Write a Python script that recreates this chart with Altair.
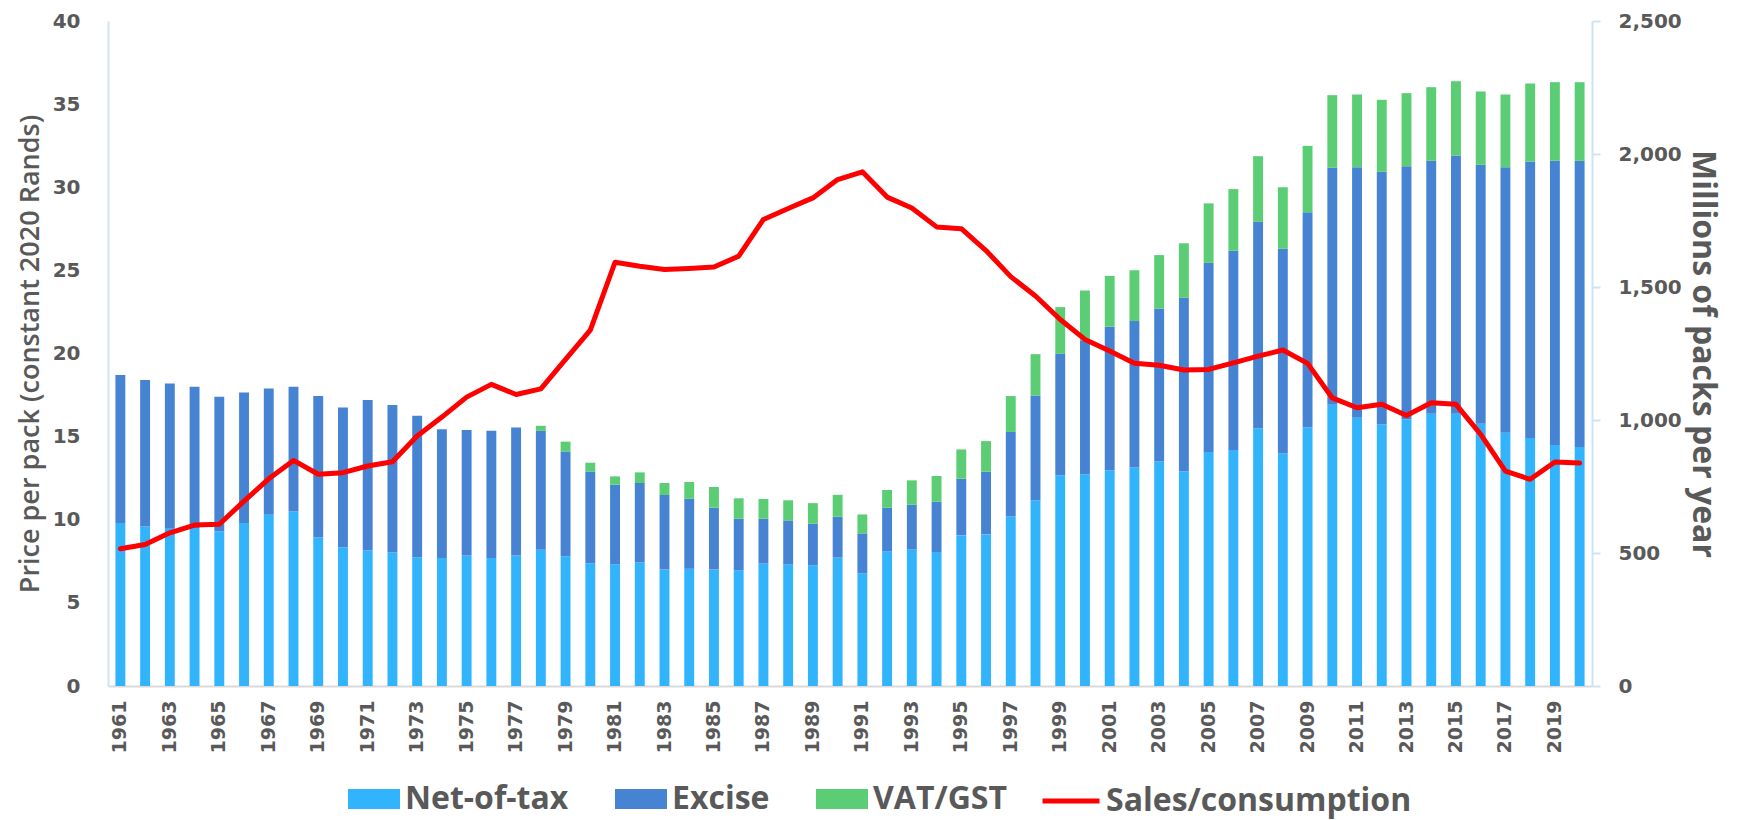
import altair as alt
import pandas as pd

years = list(range(1961, 2021))

net_of_tax = [9.8, 9.6, 9.5, 9.5, 9.3, 9.8, 10.3, 10.5, 8.95, 8.35,
              8.15, 8.05, 7.75, 7.7, 7.85, 7.7, 7.85, 8.2, 7.8, 7.38,
              7.32, 7.42, 7.01, 7.05, 7.01, 6.96, 7.36, 7.32, 7.26, 7.72,
              6.78, 8.1, 8.22, 8.06, 9.06, 9.12, 10.2, 11.17, 12.67, 12.73,
              12.97, 13.15, 13.51, 12.91, 14.07, 14.19, 15.51, 13.99, 15.56, 16.92,
              16.13, 15.73, 16.04, 16.38, 16.38, 15.77, 15.23, 14.91, 14.49, 14.37]

excise = [8.9, 8.8, 8.7, 8.5, 8.1, 7.85, 7.6, 7.5, 8.5, 8.4,
          9.05, 8.85, 8.5, 7.75, 7.55, 7.65, 7.7, 7.15, 6.3, 5.52,
          4.79, 4.79, 4.48, 4.21, 3.71, 3.1, 2.7, 2.64, 2.5, 2.46,
          2.4, 2.62, 2.68, 3.02, 3.41, 3.77, 5.08, 6.31, 7.31, 8.06,
          8.64, 8.8, 9.2, 10.44, 11.38, 11.99, 12.41, 12.31, 12.93, 14.25,
          15.08, 15.2, 15.23, 15.21, 15.53, 15.58, 15.98, 16.64, 17.1, 17.22]

vat_gst = [0, 0, 0, 0, 0, 0, 0, 0, 0, 0,
           0, 0, 0, 0, 0, 0, 0, 0.3, 0.6, 0.53,
           0.5, 0.64, 0.72, 1.01, 1.25, 1.23, 1.19, 1.21, 1.24, 1.32,
           1.14, 1.07, 1.47, 1.55, 1.76, 1.84, 2.16, 2.48, 2.81, 3.0,
           3.06, 3.06, 3.21, 3.28, 3.58, 3.71, 3.95, 3.7, 4.0, 4.37,
           4.37, 4.33, 4.39, 4.43, 4.47, 4.41, 4.37, 4.69, 4.73, 4.73]

sales = [516, 532, 576, 605, 608, 695, 779, 848, 796, 802,
         827, 843, 940, 1011, 1086, 1134, 1096, 1117, 1228, 1338,
         1593, 1578, 1566, 1570, 1575, 1616, 1754, 1795, 1835, 1904,
         1933, 1838, 1797, 1726, 1719, 1637, 1539, 1466, 1378, 1303,
         1259, 1213, 1206, 1188, 1190, 1215, 1240, 1263, 1213, 1083,
         1046, 1059, 1017, 1065, 1059, 946, 808, 777, 842, 838]

series_names = ["Net-of-tax", "Excise", "VAT/GST"]
series_colors = ["#31b4fc", "#4783d3", "#5bce75"]
line_name = "Sales/consumption"
line_color = "#ff0000"
left_ticks = [0, 5, 10, 15, 20, 25, 30, 35, 40]
right_ticks = [0, 500, 1000, 1500, 2000, 2500]
label_years = [y for y in years if y % 2 == 1]

TXT = "#595959"
AXBLUE = "#cfe3f6"

rows = []
for i, yr in enumerate(years):
    for k, (name, vals) in enumerate(zip(series_names, [net_of_tax, excise, vat_gst])):
        rows.append({"year": yr, "series": name, "value": vals[i], "order": k})
bars_df = pd.DataFrame(rows)
line_df = pd.DataFrame({"year": years, "sales": sales, "name": [line_name] * len(years)})

x_enc = alt.X(
    "year:O",
    scale=alt.Scale(paddingInner=0.6, paddingOuter=0.3),
    axis=alt.Axis(
        title=None, values=label_years, labelAngle=270, ticks=False,
        domainColor="#d9d9d9", domainWidth=2, labelPadding=14,
        labelFont="DejaVu Sans", labelFontSize=19, labelFontWeight="bold",
        labelColor=TXT, grid=False,
    ),
)

bars = alt.Chart(bars_df).mark_bar(strokeWidth=0).encode(
    x=x_enc,
    y=alt.Y(
        "value:Q",
        stack="zero",
        scale=alt.Scale(domain=[0, 40], nice=False),
        axis=alt.Axis(
            title="Price per pack (constant 2020 Rands)", values=left_ticks,
            ticks=False, domainColor=AXBLUE, domainWidth=2, grid=False,
            labelPadding=28, labelFont="DejaVu Sans", labelFontSize=20,
            labelFontWeight="bold", labelColor=TXT,
            titleFont="Open Sans", titleFontSize=27, titleFontWeight=600,
            titleColor=TXT, titlePadding=8,
        ),
    ),
    color=alt.Color(
        "series:N",
        scale=alt.Scale(domain=series_names, range=series_colors),
        legend=alt.Legend(
            title=None, orient="none", legendX=240, legendY=752,
            direction="horizontal", columns=3, symbolSize=2704,
            symbolType="M-1,-0.385H1V0.385H-1Z",
            symbolStrokeWidth=0, symbolOpacity=1,
            labelFont="Open Sans", labelFontSize=32, labelFontWeight="bold",
            labelColor=TXT, labelOffset=5, columnPadding=46, labelLimit=0,
            padding=0,
        ),
    ),
    order=alt.Order("order:Q", sort="ascending"),
)

line = alt.Chart(line_df).mark_line(
    strokeWidth=5, strokeJoin="round", strokeCap="round"
).encode(
    x=alt.X("year:O"),
    y=alt.Y(
        "sales:Q",
        scale=alt.Scale(domain=[0, 2500], nice=False),
        axis=alt.Axis(
            orient="right", title="Millions of packs per year",
            values=right_ticks, format=",.0f", tickSize=8, tickWidth=2,
            tickColor=AXBLUE, domainColor=AXBLUE, domainWidth=2, grid=False,
            labelPadding=18, labelFont="DejaVu Sans", labelFontSize=20,
            labelFontWeight="bold", labelColor=TXT,
            titleFont="Open Sans", titleFontSize=32, titleFontWeight="bold",
            titleColor=TXT, titlePadding=4,
        ),
    ),
    stroke=alt.Stroke(
        "name:N",
        scale=alt.Scale(domain=[line_name], range=[line_color]),
        legend=alt.Legend(
            title=None, orient="none", legendX=932, legendY=749,
            symbolType="stroke", symbolSize=3249, symbolStrokeWidth=5,
            symbolStrokeColor=line_color,
            labelFont="Open Sans", labelFontSize=32, labelFontWeight="bold",
            labelColor=TXT, labelOffset=4, labelLimit=0, padding=0,
        ),
    ),
)

chart = alt.layer(bars, line).resolve_scale(y="independent").properties(
    width=1484, height=665, background="white",
    padding={"left": 8, "top": 3, "right": 8, "bottom": 2},
).configure_view(stroke=None)

chart.save("out.html", embed_options={"renderer": "svg", "actions": False})
